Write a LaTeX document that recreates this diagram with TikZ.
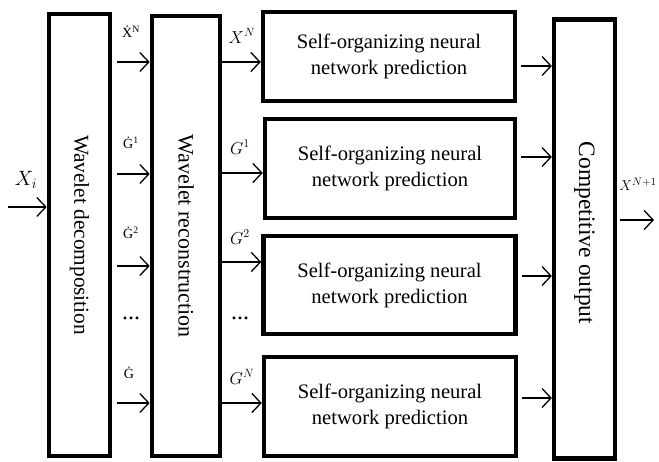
\documentclass[tikz,border=0pt]{standalone}
\usepackage{fontspec}
\setmainfont{Liberation Serif}
\usetikzlibrary{arrows.meta,calc}
\begin{document}
\begin{tikzpicture}[x=1pt,y=-1pt,
  box/.style={draw,line width=4.6pt,inner sep=0pt},
  pbox/.style={draw,line width=4.4pt,inner sep=0pt,minimum width=252pt,align=center,font=\fontsize{20.6}{26}\selectfont},
  vtext/.style={rotate=-90,inner sep=0pt},
  arr/.style={line width=1.3pt,-{Straight Barb[length=9pt,width=19pt,line width=1.3pt]}},
  slab/.style={font=\fontsize{14}{16}\selectfont,inner sep=0pt},
  mlab/.style={font=\fontsize{18}{20}\selectfont,inner sep=0pt},
  dots/.style={font=\fontsize{24}{26}\selectfont,inner sep=0pt}]
\useasboundingbox (0,0) rectangle (659,461);
% main boxes
\node[box,minimum width=61pt,minimum height=442pt] (dec) at (79.5,235) {};
\node[vtext,font=\fontsize{21.3}{24}\selectfont] (dect) at (dec.center) {Wavelet decomposition};
\node[box,minimum width=68pt,minimum height=440pt] (rec) at (186,236) {};
\node[vtext,font=\fontsize{22}{24}\selectfont] (rect) at (rec.center) {Wavelet reconstruction};
\node[box,line width=4.2pt,minimum width=61pt,minimum height=439pt] (comp) at (584.5,239) {};
\node[vtext,font=\fontsize{23.5}{26}\selectfont] (compt) at ($(comp.center)+(0,-6)$) {Competitive output};
% prediction boxes
\node[pbox,minimum height=89pt] (p1) at (389,56.5) {Self-organizing neural\\network prediction};
\node[pbox,minimum height=99pt,minimum width=250pt] (p2) at (390,168.5) {Self-organizing neural\\network prediction};
\node[pbox,minimum height=98pt] (p3) at (389.5,285) {Self-organizing neural\\network prediction};
\node[pbox,minimum height=99pt] (p4) at (390,406.5) {Self-organizing neural\\network prediction};
% input / output
\coordinate (in) at (8,207);
\draw[arr] (in) -- (dec.west |- in);
\node[mlab,font=\fontsize{22}{24}\selectfont] (xi) at (26,180) {$X_i$};
\coordinate (out) at (654,220);
\draw[arr,shorten <=3pt] (comp.east |- out) -- (out);
\node[mlab,font=\fontsize{15}{16}\selectfont] (xn1) at (638,184) {$X^{N+1}$};
% dec -> rec
\foreach \y in {62,174,266,403}{
  \draw[arr,shorten <=5pt] (dec.east |- 0,\y) -- (rec.west |- 0,\y);
}
\node[slab] (l1) at (131,32) {\.{X}\textsuperscript{N}};
\node[slab] (l2) at (131,143) {\.{G}\textsuperscript{1}};
\node[slab] (l3) at (131,233) {\.{G}\textsuperscript{2}};
\node[dots] (l4) at (131,318) {...};
\node[slab] (l5) at (129,373) {\.{G}};
% rec -> predictions
\draw[arr] (rec.east |- 0,62) -- (p1.west |- 0,62);
\draw[arr] (rec.east |- 0,173) -- (p2.west |- 0,173);
\draw[arr] (rec.east |- 0,262) -- (p3.west |- 0,262);
\draw[arr] (rec.east |- 0,403) -- (p4.west |- 0,403);
\node[mlab] (r1) at (242,36) {$X^N$};
\node[mlab] (r2) at (240,147) {$G^1$};
\node[mlab] (r3) at (240,237) {$G^2$};
\node[dots] (r4) at (240,318) {...};
\node[mlab] (r5) at (242,377) {$G^N$};
% predictions -> comp
\draw[arr,shorten <=4pt] (p1.east |- 0,66) -- (comp.west |- 0,66);
\draw[arr,shorten <=4pt] (p2.east |- 0,157) -- (comp.west |- 0,157);
\draw[arr,shorten <=4pt] (p3.east |- 0,276) -- (comp.west |- 0,276);
\draw[arr,shorten <=4pt] (p4.east |- 0,398) -- (comp.west |- 0,398);
\end{tikzpicture}
\end{document}
